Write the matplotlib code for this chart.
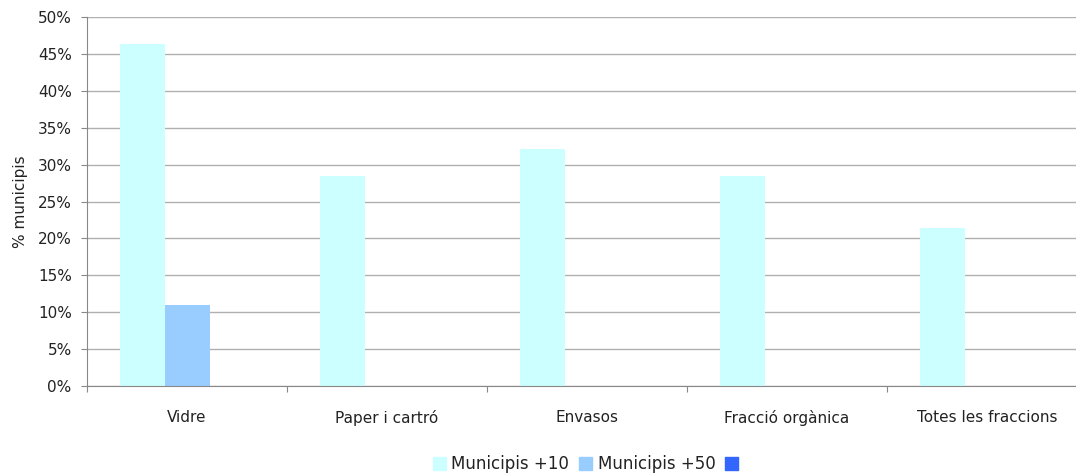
import matplotlib.pyplot as plt
import matplotlib.patches as mpatches
import numpy as np

plt.rcParams['font.family'] = ['DejaVu Sans']

categories = ["Vidre", "Paper i cartró", "Envasos", "Fracció orgànica", "Totes les fraccions"]
mun10 = [46.4, 28.5, 32.1, 28.5, 21.4]
mun50 = [11.0, 0, 0, 0, 0]
mun_other = [0, 0, 0, 0, 0]
series_names = ["Municipis +10", "Municipis +50", " "]
colors = ["#CCFFFF", "#99CCFF", "#3366FF"]

fig = plt.figure(figsize=(10.76, 4.75), dpi=100)
# axes extends past the right edge, like the original
ax = fig.add_axes([87/1076, 89/475, 1000/1076, 369/475])

x = np.arange(len(categories))
w = 0.225
for i, (vals, c) in enumerate(zip([mun10, mun50, mun_other], colors)):
    ax.bar(x + (i - 1) * w, vals, width=w, color=c, zorder=2)

ax.set_xlim(-0.5, len(categories) - 0.5)
ax.set_ylim(0, 50)
ax.set_yticks(np.arange(0, 51, 5))
ax.set_yticklabels([f"{v}%" for v in range(0, 51, 5)], fontsize=11, color="#222222")
ax.yaxis.grid(True, color="#B0B0B0", linewidth=1, zorder=0)
ax.set_ylabel("% municipis", fontsize=11, color="#222222", labelpad=7)

ax.set_xticks(np.arange(-0.5, len(categories), 1))
ax.set_xticklabels([])
ax.set_xticks(x, minor=True)
ax.set_xticklabels(categories, minor=True, fontsize=11, color="#222222")
ax.tick_params(axis='x', which='minor', length=0, pad=17)
ax.tick_params(axis='x', which='major', length=4, color="#888888")
ax.tick_params(axis='y', length=4, color="#888888", pad=7)

for s in ["top", "right"]:
    ax.spines[s].set_visible(False)
ax.spines["left"].set_color("#888888")
ax.spines["bottom"].set_color("#888888")

handles = [mpatches.Patch(color=c, label=n) for c, n in zip(colors, series_names)]
leg = fig.legend(handles=handles, loc="lower center", bbox_to_anchor=(591/1076, -0.028), ncol=3,
                 frameon=False, fontsize=12, handlelength=0.75, handleheight=0.75,
                 handletextpad=0.35, columnspacing=0.6)
for t in leg.get_texts():
    t.set_color("#222222")

fig.savefig("out.png", dpi=100)
